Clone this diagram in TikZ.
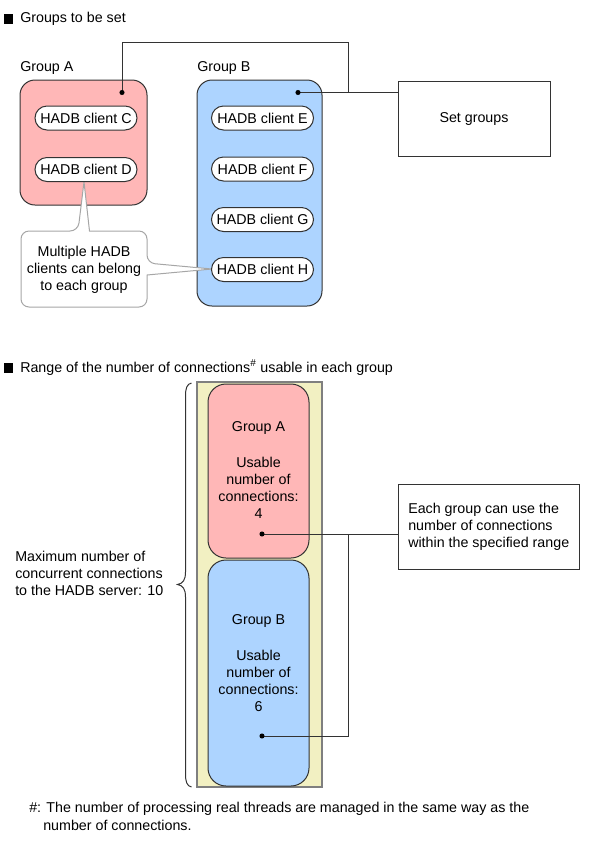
\documentclass[tikz,border=0pt]{standalone}
\usepackage{fontspec}
\setmainfont{Liberation Sans}
\definecolor{pinkc}{HTML}{FFB7B7}
\definecolor{bluec}{HTML}{ADD4FF}
\definecolor{yellowc}{HTML}{F2F0C2}
\definecolor{edgec}{HTML}{333333}
\definecolor{callc}{HTML}{A6A6A6}
\definecolor{yedge}{HTML}{7F7F7F}
\begin{document}
\begin{tikzpicture}[x=0.75pt,y=-0.75pt,
  font=\fontsize{10.7pt}{12.75pt}\selectfont,
  lbl/.style={inner sep=0pt, anchor=west, align=left},
  grp/.style={draw=edgec, line width=0.75pt, rounded corners=11.25pt, inner sep=0pt},
  pill/.style={draw=edgec, fill=white, line width=0.75pt, rounded corners=9pt,
    minimum width=76.5pt, minimum height=18pt, inner sep=0pt},
  plainbox/.style={draw=edgec, fill=white, line width=0.75pt, inner sep=0pt},
  conn/.style={draw=edgec, line width=0.75pt},
  dot/.style={fill=black},
  bigrp/.style={draw=edgec, line width=0.75pt, rounded corners=13.5pt, inner sep=0pt,
    minimum width=75.75pt},
  ctext/.style={inner sep=0pt, align=center}
]
\useasboundingbox (0,0) rectangle (589,844);

% ---------- Section 1 ----------
\fill[black] (3.5,14) rectangle (12.5,23.5);
\node[lbl] (t1) at (20,18.5) {Groups to be set};

\node[lbl] (lA) at (20,68) {Group A};
\node[lbl] (lB) at (197,68) {Group B};

\node[grp, fill=pinkc, minimum width=95.25pt, minimum height=93.75pt] (gA) at (83.5,142.5) {};
\node[grp, fill=bluec, minimum width=93.75pt, minimum height=169.5pt] (gB) at (259.5,193) {};

\node[plainbox, minimum width=114pt, minimum height=56.25pt] (set) at (474,118.5) {Set groups};

\coordinate (dA) at (122,92.5);
\coordinate (dB) at (298,92.5);
\coordinate (k1) at (122,42);
\coordinate (k2) at (348,42);
\coordinate (k3) at (348,92.5);
\draw[conn] (dA) -- (k1) -- (k2) -- (k3);
\draw[conn] (dB) -- (dB -| set.west);
\fill[dot] (dA) circle (1.9pt);
\fill[dot] (dB) circle (1.9pt);

% callout
\draw[draw=callc, fill=white, line width=0.75pt]
  [rounded corners=6pt] (21,260) |- (78,231)
  [sharp corners] -- (84,182) -- (89.5,231)
  [rounded corners=6pt] -| (147,263)
  [sharp corners] -- (212,269) -- (147,275)
  [rounded corners=6pt] |- (21,307) -- cycle;
\node[ctext] (call) at (84,269.5) {Multiple HADB\\clients can belong\\to each group};

\node[pill] (pC) at (86,118) {HADB client C};
\node[pill] (pD) at (86,169.5) {HADB client D};
\node[pill] (pE) at (262.5,118) {HADB client E};
\node[pill] (pF) at (262.5,169) {HADB client F};
\node[pill] (pG) at (262.5,219.5) {HADB client G};
\node[pill] (pH) at (262.5,269.5) {HADB client H};

% ---------- Section 2 ----------
\fill[black] (3.5,363) rectangle (12.5,372.5);
\node[lbl] (t2) at (20,367.5) {Range of the number of connections\textsuperscript{\#} usable in each group};

\node[draw=yedge, fill=yellowc, line width=1.3pt, minimum width=93.75pt, minimum height=303.75pt, inner sep=0pt] (yel) at (259.5,584.5) {};
\node[bigrp, fill=pinkc, minimum height=130.5pt] (bA) at (258.5,471) {};
\node[bigrp, fill=bluec, minimum height=169.5pt] (bB) at (258.5,673) {};

\node[ctext] (bAt) at (258.5,428) {Group A};
\node[ctext] (bAu) at (258.5,488) {Usable\\number of\\connections:\\4};
\node[ctext] (bBt) at (258.5,621) {Group B};
\node[ctext] (bBu) at (258.5,681) {Usable\\number of\\connections:\\6};

\node[plainbox, minimum width=135.75pt, minimum height=63.75pt] (each) at (488.5,526.5) {};
\node[lbl] (eacht) at (408,526.5) {Each group can use the\\number of connections\\within the specified range};

\coordinate (d2A) at (262,534);
\coordinate (d2B) at (262,736);
\coordinate (j1) at (348,534);
\coordinate (j2) at (348,736);
\draw[conn] (d2A) -- (d2A -| each.west);
\draw[conn] (j1) -- (j2) -- (d2B);
\fill[dot] (d2A) circle (1.9pt);
\fill[dot] (d2B) circle (1.9pt);

% brace
\draw[edgec, line width=0.75pt]
  (191.5,383) .. controls (187,384) and (185.5,388) .. (185.5,396)
  -- (185.5,572) .. controls (185.5,580) and (183,583.5) .. (177.5,584.5)
  .. controls (183,585.5) and (185.5,589) .. (185.5,597)
  -- (185.5,774) .. controls (185.5,782) and (187,786) .. (191.5,787);

\node[lbl] (maxt) at (15,573) {Maximum number of\\concurrent connections\\to the HADB server: 10};

\node[lbl] (f1) at (29,809) {\#: The number of processing real threads are managed in the same way as the};
\node[lbl] (f2) at (43,825) {number of connections.};
\end{tikzpicture}
\end{document}
